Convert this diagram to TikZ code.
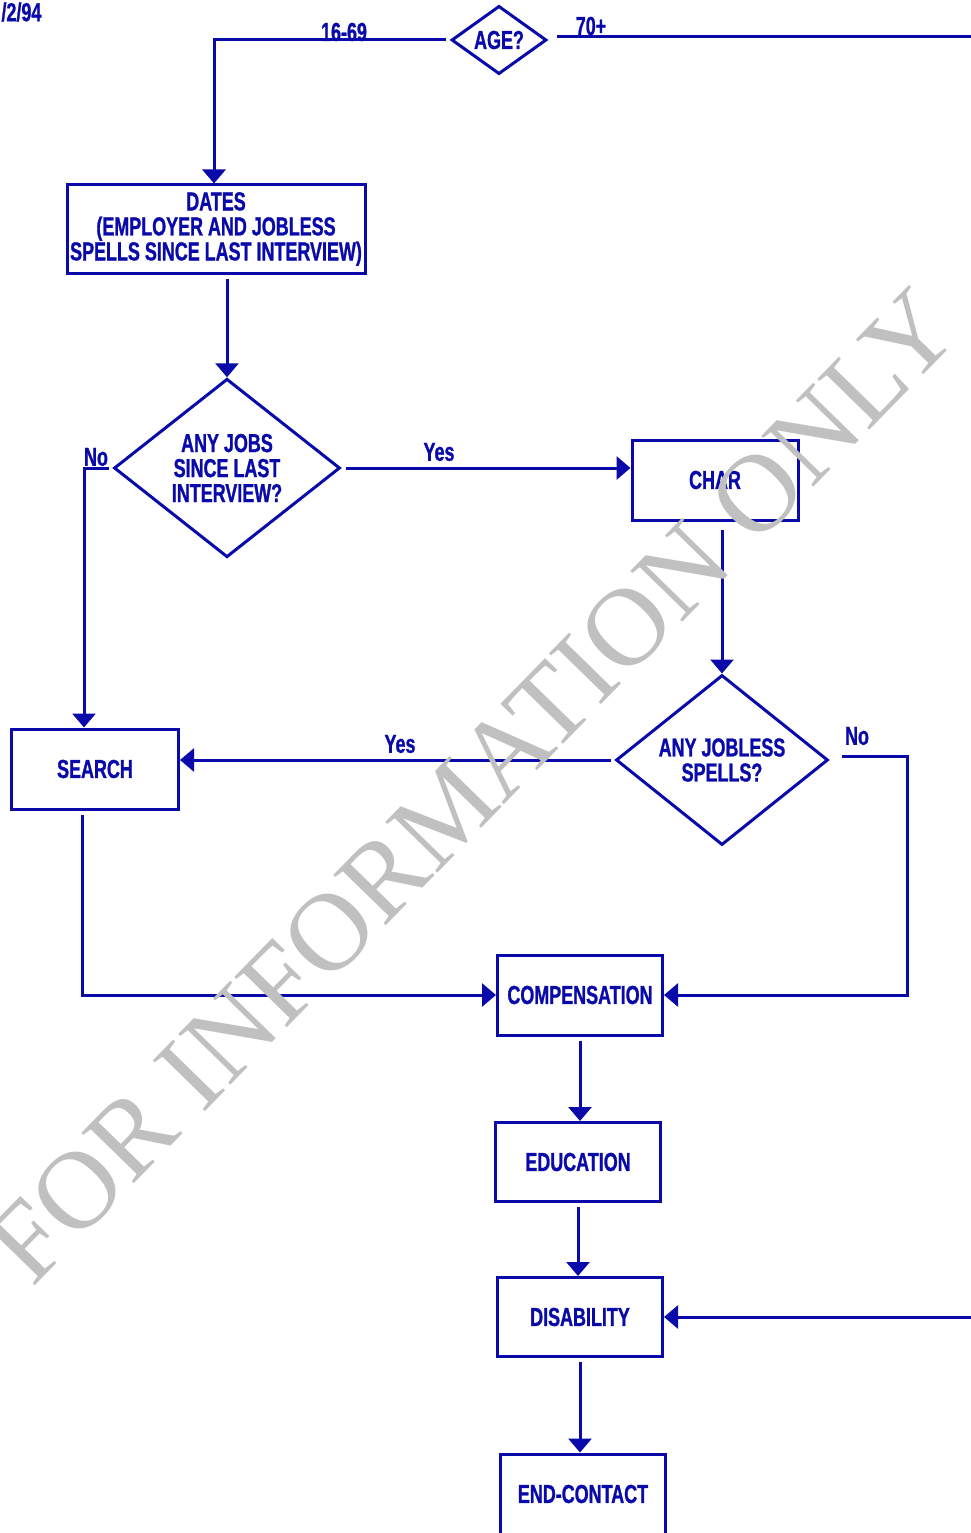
\documentclass[tikz,border=0pt]{standalone}
\usepackage{fontspec}
\newfontfamily\flowfont[FakeStretch=0.69,FakeBold=1]{Liberation Sans Bold}
\newfontfamily\markfont{Liberation Serif}
\usetikzlibrary{shapes.geometric, arrows.meta}
\definecolor{flowblue}{RGB}{10,10,170}
\definecolor{markgray}{RGB}{192,192,192}

\begin{document}
\begin{tikzpicture}[x=1pt,y=-1pt,line width=3pt,flowblue,
  font=\flowfont\fontsize{26}{25}\selectfont,
  box/.style={draw,rectangle,inner sep=0pt,align=center},
  query/.style={draw,diamond,inner sep=0pt,align=center},
  flow/.style={-{Triangle[width=23pt,length=14pt]},shorten <=4pt},
  tag/.style={inner sep=0pt}]

\useasboundingbox (0,0) rectangle (971,1533);
\clip (0,0) rectangle (971,1533);

\node[tag,anchor=west] (date) at (0,12) {/2/94};

\node[query,minimum width=95pt,minimum height=68pt] (age) at (499,40) {AGE?};
\node[box,minimum width=298pt,minimum height=88pt] (dates) at (216,229) {DATES\\(EMPLOYER AND JOBLESS\\SPELLS SINCE LAST INTERVIEW)};
\node[query,minimum width=226pt,minimum height=168pt] (jobs) at (227,468) {ANY JOBS\\SINCE LAST\\INTERVIEW?};
\node[box,minimum width=166pt,minimum height=80pt] (char) at (715,480) {CHAR};
\node[query,minimum width=212pt,minimum height=144pt] (jobless) at (722,760) {ANY JOBLESS\\SPELLS?};
\node[box,minimum width=167pt,minimum height=80pt] (search) at (95,769) {SEARCH};
\node[box,minimum width=165pt,minimum height=80pt] (comp) at (580,995) {COMPENSATION};
\node[box,minimum width=165pt,minimum height=79pt] (edu) at (578,1162) {EDUCATION};
\node[box,minimum width=165pt,minimum height=79pt] (dis) at (580,1317) {DISABILITY};
\node[box,minimum width=165pt,minimum height=80pt] (endc) at (583,1494) {END-CONTACT};

\coordinate (offr) at (1000,37);

\draw[flow] (age.west) -| ([xshift=-2pt]dates.north);
\node[tag] (l1669) at (344,32) {16-69};
\draw[flow] ([xshift=5pt]age.east |- offr) -- (offr) |- (dis.east);
\node[tag] (l70) at (591,26) {70+};

\draw[flow] ([xshift=11pt]dates.south) -- (jobs.north);
\draw[flow] (jobs.east) -- (jobs.east -| char.west);
\node[tag] (lyes1) at (439,452) {Yes};
\draw[flow] (jobs.west) -| ([xshift=-11pt]search.north);
\node[tag] (lno1) at (96,457) {No};

\draw[flow] ([yshift=-4pt]char.south -| jobless.north) -- (jobless.north);
\draw[flow] (jobless.west) -- (jobless.west -| search.east);
\node[tag] (lyes2) at (400,744) {Yes};
\draw[flow] ([shift={(8pt,4pt)}]jobless.east) -- ++(70,0) |- (comp.east);
\node[tag] (lno2) at (857,736) {No};

\draw[flow] ([xshift=-13pt]search.south) |- (comp.west);
\draw[flow] (comp.south) -- (comp.south |- edu.north);
\draw[flow] (edu.south) -- (edu.south |- dis.north);
\draw[flow] (dis.south) -- (dis.south |- endc.north);

\node[markgray,font=\markfont\fontsize{111}{111}\selectfont,rotate=45.7,inner sep=0pt] (mark) at (472,786) {FOR INFORMATION ONLY};

\end{tikzpicture}
\end{document}
